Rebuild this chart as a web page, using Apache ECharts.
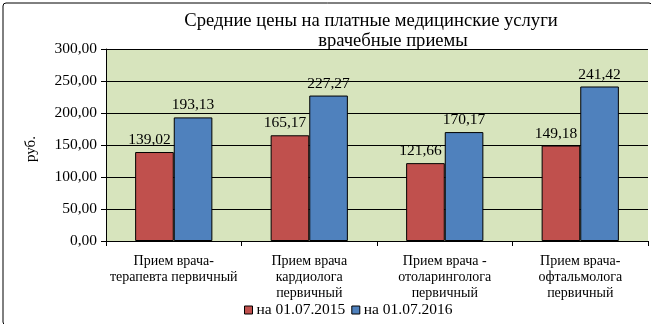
<!DOCTYPE html>
<html>
<head>
<meta charset="utf-8">
<script src="https://cdn.jsdelivr.net/npm/echarts@6/dist/echarts.min.js"></script>
<style>
html,body{margin:0;padding:0;background:#fff;}
#chart{width:651px;height:324px;}
</style>
</head>
<body>
<div id="chart"></div>
<script>
// Service categories (axis labels use line breaks)
const categories = [
  'Прием врача-\nтерапевта первичный',
  'Прием врача\nкардиолога\nпервичный',
  'Прием врача -\nотоларинголога\nпервичный',
  'Прием врача-\nофтальмолога\nпервичный'
];
const series2015 = [139.02, 165.17, 121.66, 149.18];
const series2016 = [193.13, 227.27, 170.17, 241.42];
const seriesNames = ['на 01.07.2015', 'на 01.07.2016'];

const FONT = '"Liberation Serif", "Times New Roman", serif';
const fmt = v => v.toFixed(2).replace('.', ',');

const chart = echarts.init(document.getElementById('chart'), null, {renderer: 'canvas'});

const barLabel = {
  show: true, position: 'top', distance: 4, fontFamily: FONT, fontSize: 15.5, color: '#000',
  formatter: p => fmt(p.value)
};

chart.setOption({
  animation: false,
  title: [
    {text: 'Средние цены на платные медицинские услуги', left: 366, textAlign: 'center', top: 7,
     textStyle: {fontFamily: FONT, fontSize: 18.6, fontWeight: 'normal', color: '#000'}},
    {text: 'врачебные приемы', left: 388, textAlign: 'center', top: 27,
     textStyle: {fontFamily: FONT, fontSize: 18.6, fontWeight: 'normal', color: '#000'}}
  ],
  graphic: [{
    type: 'rect', left: 0.5, top: 0.5, z: -10,
    shape: {width: 649, height: 322, r: 3},
    style: {fill: 'none', stroke: '#000', lineWidth: 1}
  }],
  legend: {
    bottom: 6, left: 244, padding: 0, itemWidth: 8, itemHeight: 8, itemGap: 6,
    icon: 'rect',
    textStyle: {fontFamily: FONT, fontSize: 15.5, color: '#000', padding: [0, 0, 0, -1]},
    data: seriesNames.map(n => ({name: n, itemStyle: {borderColor: '#000', borderWidth: 1}}))
  },
  grid: {left: 106, right: 3, top: 49, bottom: 83, show: true, backgroundColor: '#D7E4BD', borderWidth: 0},
  xAxis: {
    type: 'category', data: categories,
    axisLine: {lineStyle: {color: '#000'}},
    axisTick: {show: true, alignWithLabel: false, length: 5, lineStyle: {color: '#000'}},
    axisLabel: {fontFamily: FONT, fontSize: 14, color: '#000', lineHeight: 16, margin: 12, interval: 0}
  },
  yAxis: {
    type: 'value', min: 0, max: 300, interval: 50,
    name: 'руб.', nameLocation: 'middle', nameGap: 67, nameRotate: 90,
    nameTextStyle: {fontFamily: FONT, fontSize: 15, color: '#000', padding: [0, 0, 0, -8]},
    axisLine: {show: true, lineStyle: {color: '#000'}},
    axisTick: {show: true, length: 5, lineStyle: {color: '#000'}},
    axisLabel: {fontFamily: FONT, fontSize: 15.5, color: '#000', margin: 9, formatter: fmt},
    splitLine: {lineStyle: {color: '#000', width: 1}}
  },
  series: [
    {name: seriesNames[0], type: 'bar', data: series2015, barGap: '0%', barCategoryGap: '43%',
     itemStyle: {color: '#C0504D', borderColor: '#000', borderWidth: 1},
     label: Object.assign({}, barLabel, {offset: [-5, 0]})},
    {name: seriesNames[1], type: 'bar', data: series2016, barGap: '0%', barCategoryGap: '43%',
     itemStyle: {color: '#4F81BD', borderColor: '#000', borderWidth: 1}, label: barLabel}
  ]
});
</script>
</body>
</html>
